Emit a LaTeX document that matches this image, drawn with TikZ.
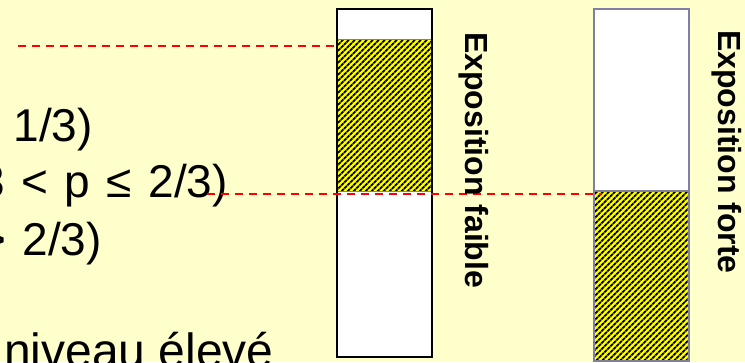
\documentclass[tikz,border=0pt]{standalone}
\usepackage{fontspec}
\setmainfont{Liberation Sans}
\usetikzlibrary{patterns.meta}
\definecolor{fond}{HTML}{FFFFCC}
\definecolor{bord}{HTML}{7F7FA5}
\definecolor{jaune}{HTML}{FFFF00}
\newcommand\textegauche{\fontsize{46}{55}\selectfont\spaceskip=16.5pt\relax}
\begin{document}
\begin{tikzpicture}[x=1pt,y=-1pt]
% cadre de la diapositive (coupee)
\useasboundingbox (0,0) rectangle (745,362);
\fill[fond] (0,0) rectangle (745,362);
\clip (0,0) rectangle (745,362);
% texte de gauche, coupe au bord
\node[anchor=base east,inner sep=0,font=\textegauche] (l1) at (93,141) {1/3)};
\node[anchor=base east,inner sep=0,font=\textegauche] (l2) at (228,197) {3 < p ≤ 2/3)};
\node[anchor=base east,inner sep=0,font=\textegauche] (l3) at (102,255) {> 2/3)};
\node[anchor=base west,inner sep=0,font=\fontsize{48}{55}\selectfont] (l4) at (4,367) {niveau élevé};
% barre exposition faible
\fill[white] (337,9) rectangle (432,357);
\fill[jaune] (337,39) rectangle (432,191);
\fill[pattern={Lines[angle=45,distance=4pt,line width=2pt]},pattern color=black] (337,39) rectangle (432,191);
\draw[bord,line width=1pt] (337,39) rectangle (432,191);
\draw[black,line width=1.5pt] (337,9) rectangle (432,357);
% barre exposition forte
\fill[white] (594,9) rectangle (689,361);
\fill[jaune] (594,191) rectangle (689,361);
\fill[pattern={Lines[angle=45,distance=4pt,line width=2pt]},pattern color=black] (594,191) rectangle (689,361);
\draw[bord,line width=1.2pt] (594,191) rectangle (689,361);
\draw[bord,line width=1.5pt] (594,9) rectangle (689,361);
% lignes de niveau
\coordinate (h1) at (18,46);
\coordinate (h2) at (337,46);
\coordinate (b1) at (207,194);
\coordinate (b2) at (602,194);
\draw[red,line width=1.8pt,dash pattern=on 8pt off 6pt] (h1) -- (h2);
\draw[red,line width=1.8pt,dash pattern=on 8pt off 6pt] (b1) -- (b2);
% etiquettes verticales
\node[rotate=-90,anchor=base west,inner sep=0,font=\bfseries\fontsize{32}{38}\selectfont] (faible) at (465,32) {Exposition faible};
\node[rotate=-90,anchor=base west,inner sep=0,font=\bfseries\fontsize{32}{38}\selectfont] (forte) at (718,30) {Exposition forte};
\end{tikzpicture}
\end{document}
